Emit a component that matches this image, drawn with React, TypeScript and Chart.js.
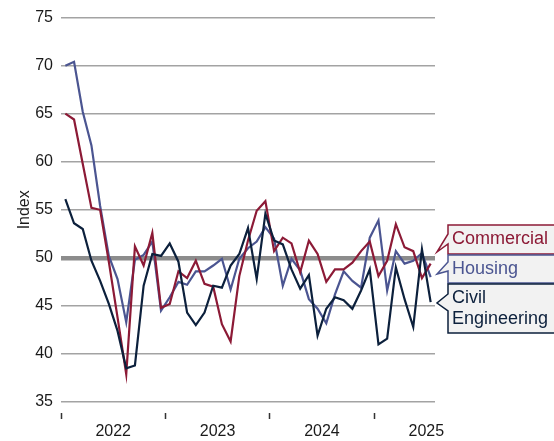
import { useEffect, useRef } from 'react';
import { Chart, registerables } from 'chart.js';

Chart.register(...registerables);

const months = [
  '2022-01', '2022-02', '2022-03', '2022-04', '2022-05', '2022-06', '2022-07', '2022-08', '2022-09', '2022-10', '2022-11', '2022-12',
  '2023-01', '2023-02', '2023-03', '2023-04', '2023-05', '2023-06', '2023-07', '2023-08', '2023-09', '2023-10', '2023-11', '2023-12',
  '2024-01', '2024-02', '2024-03', '2024-04', '2024-05', '2024-06', '2024-07', '2024-08', '2024-09', '2024-10', '2024-11', '2024-12',
  '2025-01', '2025-02', '2025-03', '2025-04', '2025-05', '2025-06', '2025-07',
];
const years = ['2022', '2023', '2024', '2025'];

const commercial = [65.0, 64.4, 59.8, 55.2, 55.0, 49.6, 43.8, 37.9, 51.2, 49.2, 52.6, 44.8, 45.2, 48.6, 47.9, 49.7, 47.3, 47.0, 43.1, 41.3, 48.1, 51.8, 54.9, 55.9, 50.7, 52.1, 51.5, 48.5, 51.8, 50.4, 47.5, 48.8, 48.8, 49.5, 50.7, 51.7, 48.1, 49.7, 53.5, 51.1, 50.7, 47.9, 49.4];
const housing = [70.0, 70.4, 65.2, 61.7, 55.4, 50.2, 47.8, 43.3, 49.8, 50.3, 51.7, 44.5, 45.9, 47.5, 47.2, 48.6, 48.6, 49.2, 49.9, 46.7, 49.9, 51.0, 51.7, 53.2, 52.0, 47.1, 49.9, 48.7, 45.7, 44.7, 43.2, 46.2, 48.6, 47.6, 46.9, 52.1, 53.9, 46.6, 50.7, 49.4, 49.7, 50.5, 48.0];
const civil = [56.1, 53.6, 53.0, 49.7, 47.6, 45.2, 42.4, 38.5, 38.8, 47.1, 50.4, 50.2, 51.5, 49.6, 44.3, 43.0, 44.3, 47.1, 46.9, 49.2, 50.4, 53.1, 47.8, 54.6, 51.8, 51.4, 48.8, 46.8, 48.2, 41.9, 44.7, 45.9, 45.6, 44.7, 46.6, 48.8, 41.0, 41.6, 49.0, 45.7, 42.8, 50.9, 45.4];

const yTicks = [35, 40, 45, 50, 55, 60, 65, 70, 75];

const RED = '#8c1a36';
const BLUE = '#4b5591';
const NAVY = '#0c203c';
const FONT = '"Liberation Sans", Arial, sans-serif';

const toPoints = (vals: number[]) => vals.map((v, i) => ({ x: months.indexOf(months[i]) + 0.5, y: v }));

const callouts = [
  { lines: ['Commercial'], color: RED, top: 225, bottom: 254, a1: 234, a2: 244, tipY: 252 },
  { lines: ['Housing'], color: BLUE, top: 255, bottom: 283, a1: 262, a2: 271, tipY: 274 },
  { lines: ['Civil', 'Engineering'], color: NAVY, top: 284, bottom: 333, a1: 294, a2: 311, tipY: 303 },
];

const calloutPlugin = {
  id: 'callouts',
  afterDraw(chart: any) {
    const ctx = chart.ctx;
    const left = chart.chartArea.right + 13;
    const tipX = chart.chartArea.right + 2;
    ctx.save();
    callouts.forEach((c) => {
      ctx.beginPath();
      ctx.moveTo(left, c.top);
      ctx.lineTo(600, c.top);
      ctx.lineTo(600, c.bottom);
      ctx.lineTo(left, c.bottom);
      ctx.lineTo(left, c.a2);
      ctx.lineTo(tipX, c.tipY);
      ctx.lineTo(left, c.a1);
      ctx.closePath();
      ctx.fillStyle = '#f2f2f2';
      ctx.fill();
      ctx.strokeStyle = c.color;
      ctx.lineWidth = 1.5;
      ctx.stroke();
      ctx.fillStyle = c.color;
      ctx.font = `18px ${FONT}`;
      ctx.textBaseline = 'middle';
      ctx.textAlign = 'left';
      const mid = (c.top + c.bottom) / 2;
      const lh = 21;
      c.lines.forEach((t, k) => {
        const y = mid + (k - (c.lines.length - 1) / 2) * lh;
        ctx.fillText(t, left + 4, y);
      });
    });
    ctx.restore();
  },
};

export default function App() {
  const ref = useRef<HTMLCanvasElement>(null);
  useEffect(() => {
    if (!ref.current) return;
    const chart = new Chart(ref.current, {
      type: 'line',
      data: {
        datasets: [
          { label: 'Civil Engineering', data: toPoints(civil), borderColor: NAVY, borderWidth: 2.2, pointRadius: 0, tension: 0, order: 1 },
          { label: 'Commercial', data: toPoints(commercial), borderColor: RED, borderWidth: 2.2, pointRadius: 0, tension: 0, order: 2 },
          { label: 'Housing', data: toPoints(housing), borderColor: BLUE, borderWidth: 2.2, pointRadius: 0, tension: 0, order: 3 },
        ],
      },
      options: {
        responsive: false,
        animation: false,
        devicePixelRatio: 1,
        layout: { padding: { top: 15, right: 119, left: 0, bottom: 0 } },
        plugins: { legend: { display: false }, tooltip: { enabled: false } },
        scales: {
          x: {
            type: 'linear',
            min: 0,
            max: months.length,
            afterBuildTicks: (scale: any) => {
              scale.ticks = [0, 6, 12, 18, 24, 30, 36, 42].map((v) => ({ value: v }));
            },
            afterFit: (scale: any) => { scale.height = 39; },
            border: { display: false },
            grid: {
              drawOnChartArea: false,
              drawTicks: true,
              tickLength: 17,
              tickWidth: 1.5,
              tickColor: (ctx: any) => (ctx.tick && ctx.tick.value % 12 === 0 ? '#333333' : 'rgba(0,0,0,0)'),
              tickBorderDash: [0, 11, 6, 100],
            },
            ticks: {
              autoSkip: false,
              maxRotation: 0,
              padding: 3,
              color: '#1a1a1a',
              font: { family: FONT, size: 16 },
              callback: (v: any) => (v % 12 === 6 ? years[(v - 6) / 12] : ''),
            },
          },
          y: {
            min: 35,
            max: 75,
            afterBuildTicks: (scale: any) => {
              scale.ticks = yTicks.map((v) => ({ value: v }));
            },
            afterFit: (scale: any) => { scale.width = 61; },
            border: { display: false },
            grid: {
              drawTicks: false,
              color: (ctx: any) => (ctx.tick && ctx.tick.value === 50 ? '#8c8c8c' : '#a3a3a3'),
              lineWidth: (ctx: any) => (ctx.tick && ctx.tick.value === 50 ? 4.5 : 1.5),
            },
            ticks: {
              padding: 8,
              color: '#1a1a1a',
              font: { family: FONT, size: 16 },
            },
            title: {
              display: true,
              text: 'Index',
              color: '#1a1a1a',
              font: { family: FONT, size: 16 },
              padding: { top: 15, bottom: 0 },
            },
          },
        },
      },
      plugins: [calloutPlugin],
    } as any);
    return () => chart.destroy();
  }, []);
  return (
    <div style={{ position: 'fixed', left: 0, top: 0, width: 554, height: 441, background: '#fff' }}>
      <canvas ref={ref} width={554} height={441} style={{ width: 554, height: 441, display: 'block' }} />
    </div>
  );
}
